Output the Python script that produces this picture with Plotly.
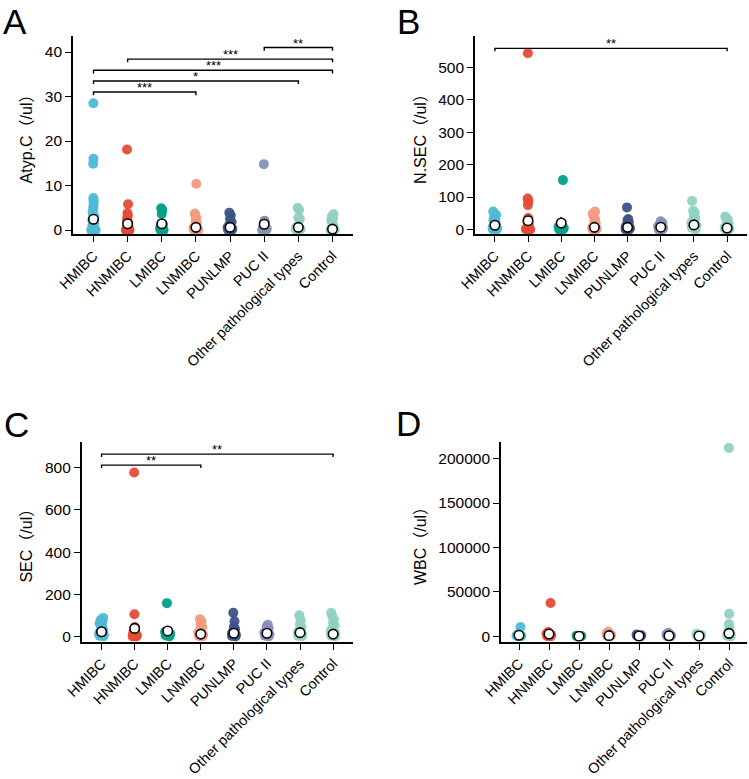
import plotly.graph_objects as go

# categories and colours (ggsci npg-like)
CATEGORIES = ["HMIBC", "HNMIBC", "LMIBC", "LNMIBC", "PUNLMP", "PUC II",
              "Other pathological types", "Control"]
COLORS = ["#4DBBD5", "#E64B35", "#00A087", "#F39B7F", "#3C5488", "#8491B4",
          "#91D1C2", "#91D1C2"]

# Panel A: Atyp.C (/ul)
ATYP_C = [
    [28.5, 16.0, 14.9, 7.2, 6.6, 6.2, 5.4, 4.8, 4.0, 3.2, 3.0, 2.6, 2.2, 1.8, 1.5, 1.2, 1.0, 0.8, 0.5, 0.3, 0.2, 0, 0, 0, 0, 0],
    [18.1, 5.8, 3.8, 3.2, 2.6, 2.0, 1.5, 1.0, 0.5, 0.2, 0, 0, 0, 0],
    [4.9, 4.5, 3.6, 1.2, 0.8, 0.5, 0, 0, 0],
    [10.4, 3.7, 3.2, 2.6, 2.0, 1.5, 1.0, 0.5, 0, 0, 0],
    [3.9, 3.3, 2.5, 1.8, 1.2, 0.6, 0.3, 0, 0],
    [14.8, 2.1, 1.8, 1.5, 1.0, 0.6, 0.3, 0, 0],
    [5.0, 4.5, 2.8, 2.5, 1.0, 0.5, 0.2, 0, 0],
    [3.6, 3.1, 2.6, 2.2, 1.8, 1.3, 1.0, 0.6, 0.3, 0, 0, 0, 0],
]
ATYP_C_MEAN = [2.4, 1.4, 1.4, 0.6, 0.6, 1.3, 0.6, 0.2]
ATYP_C_SE = [0.6, 0.5, 0.4, 0.3, 0.2, 0.5, 0.3, 0.1]
ATYP_C_SIG = [(5, 7, 41.0, "**"), (1, 7, 38.4, "***"), (0, 7, 35.9, "***"),
              (0, 6, 33.5, "*"), (0, 3, 31.0, "***")]

# Panel B: N.SEC (/ul)
N_SEC = [
    [55, 45, 38, 32, 28, 22, 18, 14, 10, 8, 5, 3, 0, 0],
    [543, 95, 88, 75, 35, 28, 22, 18, 12, 8, 5, 2, 0, 0, 0],
    [152, 12, 8, 4, 0, 0],
    [55, 48, 40, 32, 25, 18, 12, 6, 2, 0, 0],
    [68, 32, 28, 22, 15, 8, 4, 0, 0],
    [25, 20, 15, 10, 5, 0, 0],
    [88, 58, 52, 42, 35, 28, 20, 12, 5, 0],
    [40, 36, 30, 25, 18, 12, 6, 2, 0, 0],
]
N_SEC_MEAN = [13, 27, 20, 6.5, 6.5, 7, 14, 4.5]
N_SEC_SE = [3, 13, 18, 3, 4, 2, 5, 2]
N_SEC_SIG = [(0, 7, 558, "**")]

# Panel C: SEC (/ul)
SEC = [
    [88, 78, 70, 62, 55, 45, 38, 30, 22, 15, 8, 3, 0],
    [778, 105, 45, 35, 28, 20, 12, 6, 0, 0],
    [158, 22, 12, 5, 0],
    [82, 70, 55, 42, 30, 18, 8, 2, 0],
    [112, 72, 45, 35, 25, 15, 8, 2, 0],
    [55, 48, 38, 28, 18, 10, 3, 0],
    [100, 78, 60, 45, 32, 20, 10, 3, 0],
    [112, 95, 80, 65, 50, 38, 25, 12, 4, 0],
]
SEC_MEAN = [22, 38, 26, 11, 15, 15, 18, 11]
SEC_SE = [5, 20, 18, 4, 6, 4, 5, 4]
SEC_SIG = [(0, 7, 865, "**"), (0, 3, 813, "**")]

# Panel D: WBC (/ul)
WBC = [
    [10500, 2500, 1200, 600, 200, 0],
    [37500, 5000, 3000, 1500, 500, 0],
    [800, 400, 100, 0],
    [5500, 3500, 1500, 500, 0],
    [2000, 1200, 500, 0],
    [4000, 2500, 1000, 300, 0],
    [3000, 1500, 600, 0],
    [212000, 25500, 14000, 10000, 6500, 4000, 2000, 800, 0],
]
WBC_MEAN = [1200, 2700, 200, 800, 400, 700, 400, 3400]
WBC_SE = [700, 1500, 100, 400, 200, 300, 200, 2500]

FONT = "Arial, 'Liberation Sans', 'Noto Sans CJK TC', sans-serif"
W, H = 749, 779


def px_x(v):
    return v / W


def px_y(v):
    return 1 - v / H


# name, data, mean, se, sig, y title, y range, x domain px, y domain px, bracket tick, y ticks
PANELS = [
    ("A", ATYP_C, ATYP_C_MEAN, ATYP_C_SE, ATYP_C_SIG, "Atyp.C（/ul）",
     [-0.9, 43.6], (73, 353), (36, 234), 0.7, [0, 10, 20, 30, 40]),
    ("B", N_SEC, N_SEC_MEAN, N_SEC_SE, N_SEC_SIG, "N.SEC（/ul）",
     [-14, 596], (475, 747), (36, 234), 9, [0, 100, 200, 300, 400, 500]),
    ("C", SEC, SEC_MEAN, SEC_SE, SEC_SIG, "SEC（/ul）",
     [-25, 924], (81.7, 353), (441.7, 641.7), 14, [0, 200, 400, 600, 800]),
    ("D", WBC, WBC_MEAN, WBC_SE, [], "WBC（/ul）",
     [-6000, 218300], (501, 747), (442.3, 641.7), 0, [0, 50000, 100000, 150000, 200000]),
]

LETTER_POS = {"A": (1, 0), "B": (395, 0), "C": (2, 403), "D": (394, 402)}

fig = go.Figure()
annotations = []
layout_axes = {}

for idx, (name, data, means, ses, sigs, ytitle, yrange, xdom, ydom, tick, yticks) in enumerate(PANELS):
    n = idx + 1
    xa = "x" if n == 1 else f"x{n}"
    ya = "y" if n == 1 else f"y{n}"

    for i, vals in enumerate(data):
        fig.add_trace(go.Box(
            x=[i] * len(vals), y=vals, boxpoints="all", jitter=0.55, pointpos=0,
            width=0.35, fillcolor="rgba(0,0,0,0)",
            line=dict(width=0, color="rgba(0,0,0,0)"),
            marker=dict(color=COLORS[i], size=10, opacity=0.95),
            xaxis=xa, yaxis=ya, showlegend=False, hoverinfo="skip",
        ))

    fig.add_trace(go.Scatter(
        x=list(range(len(CATEGORIES))), y=means, mode="markers",
        marker=dict(color="white", size=9.5, line=dict(color="black", width=1.6)),
        error_y=dict(type="data", array=ses, color="black", thickness=1.6, width=0),
        xaxis=xa, yaxis=ya, showlegend=False, hoverinfo="skip",
    ))

    for (a, b, yv, label) in sigs:
        fig.add_trace(go.Scatter(
            x=[a, a, b, b], y=[yv - tick, yv, yv, yv - tick], mode="lines",
            line=dict(color="black", width=1.4), xaxis=xa, yaxis=ya,
            showlegend=False, hoverinfo="skip",
        ))
        annotations.append(dict(
            x=(a + b) / 2, y=yv, xref=xa, yref=ya, text=label, showarrow=False,
            yanchor="bottom", yshift=-5, font=dict(size=13, color="black", family=FONT),
        ))

    axis_common = dict(
        showline=True, linecolor="black", linewidth=1.6, ticks="outside",
        ticklen=6, tickwidth=1.4, tickcolor="black", showgrid=False,
        zeroline=False, automargin=False,
    )
    layout_axes["xaxis" if n == 1 else f"xaxis{n}"] = dict(
        axis_common, domain=[px_x(xdom[0]), px_x(xdom[1])], range=[-0.6, 7.6],
        tickvals=list(range(len(CATEGORIES))), ticktext=CATEGORIES,
        tickangle=-45, anchor=ya,
        tickfont=dict(size=14.5, color="black", family=FONT),
    )
    layout_axes["yaxis" if n == 1 else f"yaxis{n}"] = dict(
        axis_common, domain=[px_y(ydom[1]), px_y(ydom[0])], range=yrange,
        anchor=xa, tickvals=yticks, tickformat="d",
        tickfont=dict(size=15.5, color="black", family=FONT),
        title=dict(text=ytitle, font=dict(size=16, color="black", family=FONT), standoff=8),
    )

    lx, ly = LETTER_POS[name]
    annotations.append(dict(
        x=px_x(lx), y=px_y(ly), xref="paper", yref="paper", text=name,
        showarrow=False, xanchor="left", yanchor="top",
        font=dict(size=35, color="black", family=FONT),
    ))

fig.update_layout(
    template="none",
    width=W, height=H, margin=dict(l=0, r=0, t=0, b=0),
    paper_bgcolor="white", plot_bgcolor="white",
    font=dict(family=FONT, color="black"),
    annotations=annotations, boxmode="overlay", showlegend=False,
    **layout_axes,
)

# drop the default page margin so the figure sits at the window's corner
fig.write_html(
    "out.html",
    config={"displayModeBar": False},
    post_script="document.body.style.margin='0';document.body.style.overflow='hidden';",
)
